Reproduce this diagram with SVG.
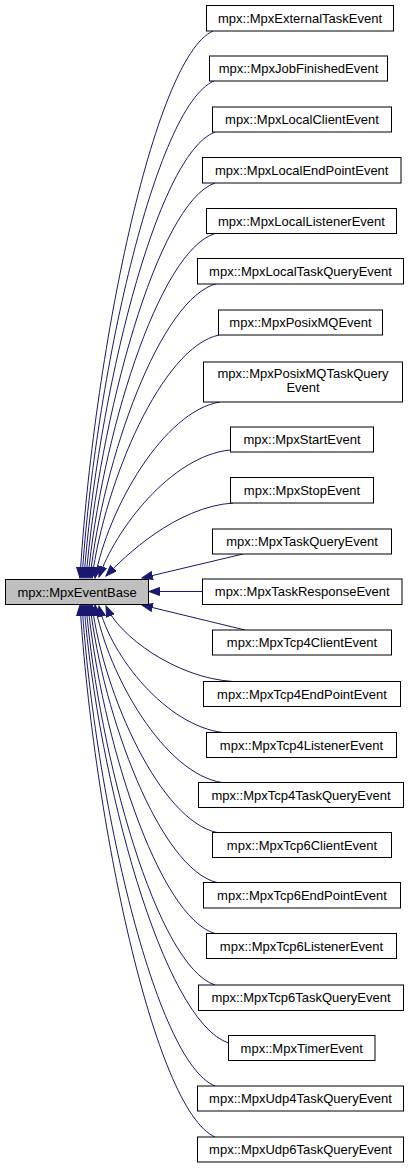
<svg xmlns="http://www.w3.org/2000/svg" width="412" height="1168" viewBox="0 0 412 1168">
<style>
.n rect{fill:#ffffff;stroke:#000000;stroke-width:1}
#base rect{fill:#bfbfbf}
text{font-family:"Liberation Sans",Arial,Helvetica,sans-serif;font-size:13px;fill:#000000;text-anchor:middle}
.e path{fill:none;stroke:#191970;stroke-width:1;marker-end:url(#ah)}
</style>
<defs>
<marker id="ah" markerUnits="userSpaceOnUse" markerWidth="13" markerHeight="10" refX="11" refY="4.5" orient="auto">
<path d="M0.5,0.5 L11,4.5 L0.5,8.5 z" fill="#191970" stroke="#191970" stroke-width="1"/>
</marker>
</defs>
<rect width="412" height="1168" fill="#ffffff"/>
<g id="edges" class="e">
<path d="M213,31 C153,58 93,359 80,578"/>
<path d="M214,81 C155,106 95,379 82,578"/>
<path d="M215,132 C156,154 97,400 84,578"/>
<path d="M215,183 C157,203 99,420 86,578"/>
<path d="M215,233.5 C158,251 101,440 88,578"/>
<path d="M217,283.5 C160,298 103,460 90,578"/>
<path d="M219,335 C162,347 105,481 92,578"/>
<path d="M220,402 C164,411 108,508 95,578"/>
<path d="M230,450 C171,456 115,530 99,577"/>
<path d="M233,503 C176,507 125,556 106,576"/>
<path d="M243,554 L142,578"/>
<path d="M202,591.5 L149,591.5"/>
<path d="M245,630 L142,605"/>
<path d="M233,681.5 C176,678 119,636 106,606"/>
<path d="M223,732.5 C167,726 111,657 99,606"/>
<path d="M222,782.5 C165,774 108,676 95,605"/>
<path d="M217,832.5 C161,821 104,696 92,605"/>
<path d="M217,882.5 C160,869 103,716 90,605"/>
<path d="M215,933.5 C158,917 101,736 88,605"/>
<path d="M215,985 C157,966 99,757 86,605"/>
<path d="M228.5,1043 C163,1021 98,780 84,605"/>
<path d="M215,1086 C155,1062 95,797 82,605"/>
<path d="M215,1137 C154,1110 93.5,818 80,605"/>
</g>
<g id="base" class="n"><rect x="5.5" y="579.5" width="143" height="25"/><text x="77" y="596.5">mpx::MpxEventBase</text></g>
<g id="n1" class="n"><rect x="206.5" y="5.5" width="187" height="25.5"/><text x="300" y="22.5">mpx::MpxExternalTaskEvent</text></g>
<g id="n2" class="n"><rect x="209.5" y="56" width="178" height="25"/><text x="298.5" y="73">mpx::MpxJobFinishedEvent</text></g>
<g id="n3" class="n"><rect x="212.5" y="107" width="179" height="25"/><text x="302" y="124">mpx::MpxLocalClientEvent</text></g>
<g id="n4" class="n"><rect x="202.5" y="157.5" width="198.5" height="25.5"/><text x="301.75" y="174.5">mpx::MpxLocalEndPointEvent</text></g>
<g id="n5" class="n"><rect x="206.5" y="208.5" width="190" height="25"/><text x="301.5" y="225.5">mpx::MpxLocalListenerEvent</text></g>
<g id="n6" class="n"><rect x="197.5" y="258.5" width="206" height="25.5"/><text x="300.5" y="275.5">mpx::MpxLocalTaskQueryEvent</text></g>
<g id="n7" class="n"><rect x="218.5" y="310" width="164" height="25"/><text x="300.5" y="327">mpx::MpxPosixMQEvent</text></g>
<g id="n8" class="n"><rect x="203.5" y="362" width="199" height="40"/><text x="303" y="378">mpx::MpxPosixMQTaskQuery</text><text x="303" y="392">Event</text></g>
<g id="n9" class="n"><rect x="230.5" y="427" width="143" height="25"/><text x="302" y="444">mpx::MpxStartEvent</text></g>
<g id="n10" class="n"><rect x="230.5" y="477.5" width="143" height="25.5"/><text x="302" y="494.5">mpx::MpxStopEvent</text></g>
<g id="n11" class="n"><rect x="212.5" y="529" width="179" height="25"/><text x="302" y="546">mpx::MpxTaskQueryEvent</text></g>
<g id="n12" class="n"><rect x="202.5" y="579" width="199.5" height="25.5"/><text x="302.25" y="596">mpx::MpxTaskResponseEvent</text></g>
<g id="n13" class="n"><rect x="212.5" y="630" width="179" height="25"/><text x="302" y="647">mpx::MpxTcp4ClientEvent</text></g>
<g id="n14" class="n"><rect x="203.5" y="681.5" width="197" height="25"/><text x="302" y="698.5">mpx::MpxTcp4EndPointEvent</text></g>
<g id="n15" class="n"><rect x="206.5" y="732.5" width="190" height="25"/><text x="301.5" y="749.5">mpx::MpxTcp4ListenerEvent</text></g>
<g id="n16" class="n"><rect x="198.5" y="782.5" width="205" height="25"/><text x="301" y="799.5">mpx::MpxTcp4TaskQueryEvent</text></g>
<g id="n17" class="n"><rect x="212.5" y="832.5" width="179" height="25"/><text x="302" y="849.5">mpx::MpxTcp6ClientEvent</text></g>
<g id="n18" class="n"><rect x="203.5" y="882.5" width="197" height="25.5"/><text x="302" y="899.5">mpx::MpxTcp6EndPointEvent</text></g>
<g id="n19" class="n"><rect x="206.5" y="933.5" width="190" height="25"/><text x="301.5" y="950.5">mpx::MpxTcp6ListenerEvent</text></g>
<g id="n20" class="n"><rect x="198.5" y="985" width="205" height="25.5"/><text x="301" y="1002">mpx::MpxTcp6TaskQueryEvent</text></g>
<g id="n21" class="n"><rect x="228.5" y="1035.5" width="146.5" height="25"/><text x="301.75" y="1052.5">mpx::MpxTimerEvent</text></g>
<g id="n22" class="n"><rect x="197.5" y="1086" width="206" height="25"/><text x="300.5" y="1103">mpx::MpxUdp4TaskQueryEvent</text></g>
<g id="n23" class="n"><rect x="197.5" y="1137" width="206" height="25"/><text x="300.5" y="1154">mpx::MpxUdp6TaskQueryEvent</text></g>
</svg>
